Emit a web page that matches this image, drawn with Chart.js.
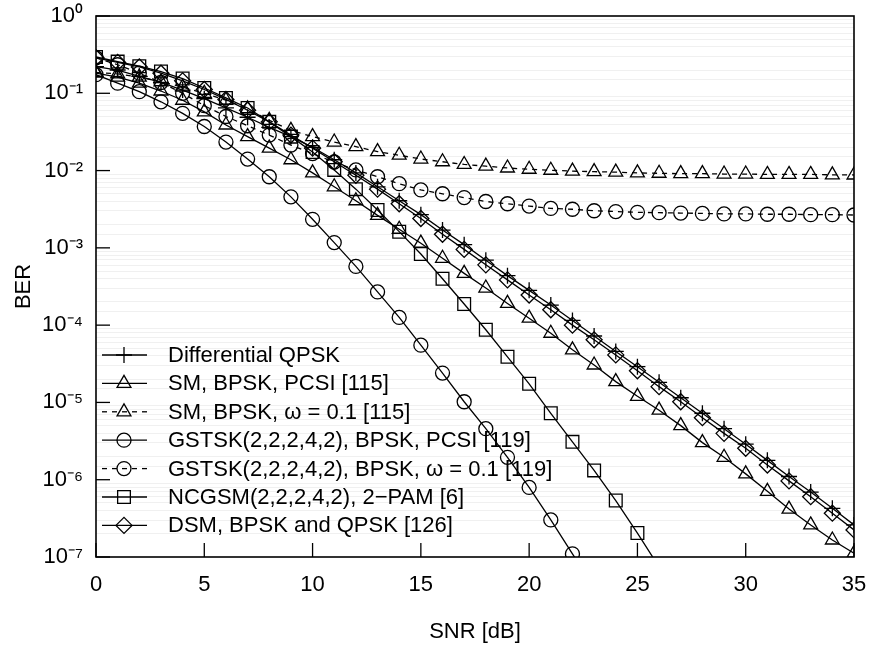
<!DOCTYPE html>
<html>
<head>
<meta charset="utf-8">
<script src="https://cdn.jsdelivr.net/npm/chart.js@4.4.0/dist/chart.umd.min.js"></script>
<style>
html,body{margin:0;padding:0;background:#fff}
#wrap{width:869px;height:646px}
</style>
</head>
<body>
<div id="wrap"><canvas id="myChart"></canvas></div>
<script>
// SNR in dB
const snr = [0,1,2,3,4,5,6,7,8,9,10,11,12,13,14,15,16,17,18,19,20,21,22,23,24,25,26,27,28,29,30,31,32,33,34,35];

// BER values
const diffQpsk = [2.21e-1,2.00e-1,1.66e-1,1.38e-1,1.10e-1,8.51e-2,6.46e-2,4.90e-2,3.63e-2,2.75e-2,2.00e-2,1.38e-2,9.33e-3,6.17e-3,4.07e-3,2.69e-3,1.70e-3,1.10e-3,6.92e-4,4.37e-4,2.82e-4,1.82e-4,1.15e-4,7.24e-5,4.57e-5,2.90e-5,1.82e-5,1.15e-5,7.24e-6,4.57e-6,2.88e-6,1.78e-6,1.10e-6,6.92e-7,4.27e-7,2.60e-7];
const smPcsi = [1.82e-1,1.62e-1,1.35e-1,1.07e-1,8.13e-2,5.75e-2,3.89e-2,2.75e-2,1.95e-2,1.38e-2,9.33e-3,6.17e-3,4.07e-3,2.63e-3,1.74e-3,1.15e-3,7.33e-4,4.68e-4,3.02e-4,1.91e-4,1.23e-4,7.85e-5,4.79e-5,3.05e-5,1.86e-5,1.20e-5,7.94e-6,5.01e-6,3.02e-6,1.95e-6,1.19e-6,7.08e-7,4.17e-7,2.60e-7,1.66e-7,1.12e-7];
const smOmega = [1.86e-1,1.78e-1,1.62e-1,1.41e-1,1.20e-1,1.00e-1,8.13e-2,6.31e-2,4.47e-2,3.31e-2,2.75e-2,2.34e-2,2.04e-2,1.76e-2,1.58e-2,1.41e-2,1.30e-2,1.20e-2,1.14e-2,1.08e-2,1.04e-2,1.01e-2,9.84e-3,9.68e-3,9.55e-3,9.33e-3,9.23e-3,9.12e-3,9.12e-3,9.02e-3,9.02e-3,8.91e-3,8.91e-3,8.91e-3,8.81e-3,8.77e-3];
const gstskPcsi = [1.74e-1,1.35e-1,1.05e-1,7.76e-2,5.50e-2,3.72e-2,2.34e-2,1.41e-2,8.32e-3,4.57e-3,2.34e-3,1.17e-3,5.75e-4,2.69e-4,1.26e-4,5.50e-5,2.40e-5,1.02e-5,4.57e-6,1.95e-6,7.94e-7,3.02e-7,1.10e-7,3.98e-8];
const gstskOmega = [2.88e-1,2.34e-1,1.82e-1,1.38e-1,1.00e-1,6.92e-2,5.01e-2,3.80e-2,2.88e-2,2.14e-2,1.66e-2,1.29e-2,1.02e-2,8.32e-3,6.76e-3,5.62e-3,5.01e-3,4.47e-3,3.98e-3,3.72e-3,3.47e-3,3.24e-3,3.16e-3,3.02e-3,2.95e-3,2.88e-3,2.85e-3,2.82e-3,2.79e-3,2.75e-3,2.75e-3,2.72e-3,2.72e-3,2.69e-3,2.69e-3,2.66e-3];
const ncgsm = [2.95e-1,2.57e-1,2.24e-1,1.91e-1,1.55e-1,1.17e-1,8.71e-2,6.46e-2,4.27e-2,2.75e-2,1.74e-2,1.02e-2,5.75e-3,3.09e-3,1.62e-3,8.32e-4,3.98e-4,1.88e-4,8.71e-5,3.89e-5,1.74e-5,7.24e-6,3.09e-6,1.32e-6,5.37e-7,2.04e-7,7.41e-8];
const dsm = [2.88e-1,2.51e-1,2.19e-1,1.82e-1,1.45e-1,1.12e-1,8.32e-2,6.03e-2,4.27e-2,2.88e-2,1.95e-2,1.30e-2,8.71e-3,5.75e-3,3.72e-3,2.40e-3,1.50e-3,9.55e-4,6.03e-4,3.85e-4,2.45e-4,1.58e-4,1.00e-4,6.46e-5,4.12e-5,2.57e-5,1.60e-5,1.02e-5,6.35e-6,3.98e-6,2.55e-6,1.55e-6,9.66e-7,6.03e-7,3.69e-7,2.24e-7];

const seriesNames = [
  'Differential QPSK',
  'SM, BPSK, PCSI [115]',
  'SM, BPSK, \u03c9 = 0.1 [115]',
  'GSTSK(2,2,2,4,2), BPSK, PCSI [119]',
  'GSTSK(2,2,2,4,2), BPSK, \u03c9 = 0.1 [119]',
  'NCGSM(2,2,2,4,2), 2\u2212PAM [6]',
  'DSM, BPSK and QPSK [126]'
];
const xTicks = [0,5,10,15,20,25,30,35];
const yTicks = [1e0,1e-1,1e-2,1e-3,1e-4,1e-5,1e-6,1e-7];

const FONT = "'Liberation Sans', Arial, Helvetica, sans-serif";
const sup = {'0':'\u2070','1':'\u00b9','2':'\u00b2','3':'\u00b3','4':'\u2074','5':'\u2075','6':'\u2076','7':'\u2077','8':'\u2078','9':'\u2079','-':'\u207b'};

function pts(arr){
  return arr.map((v,i) => ({x: snr[i], y: v}));
}

const styles = [
  {shape:'cross', r:8, dash:[]},
  {shape:'triangle', r:8, dash:[]},
  {shape:'triangle', r:8, dash:[5,5]},
  {shape:'circle', r:7, dash:[]},
  {shape:'circle', r:7, dash:[5,5]},
  {shape:'rect', r:9, dash:[]},
  {shape:'rectRot', r:8, dash:[]}
];
const allData = [diffQpsk, smPcsi, smOmega, gstskPcsi, gstskOmega, ncgsm, dsm];

const datasets = allData.map((arr,i) => ({
  label: seriesNames[i],
  data: pts(arr),
  borderColor: '#000',
  backgroundColor: 'rgba(0,0,0,0)',
  borderWidth: 1.3,
  borderDash: styles[i].dash,
  pointStyle: styles[i].shape,
  pointRadius: styles[i].r,
  pointBorderWidth: 1.3,
  pointBorderColor: '#000',
  pointBackgroundColor: 'rgba(0,0,0,0)',
  tension: 0,
  fill: false
}));

function drawMarker(ctx, shape, x, y, r){
  ctx.beginPath();
  if(shape=='circle'){
    ctx.arc(x, y, r, 0, Math.PI*2);
  } else if(shape=='triangle'){
    ctx.moveTo(x, y - r);
    ctx.lineTo(x + Math.cos(Math.PI/6)*r, y + r/2);
    ctx.lineTo(x - Math.cos(Math.PI/6)*r, y + r/2);
    ctx.closePath();
  } else if(shape=='rect'){
    const s = Math.SQRT1_2*r;
    ctx.rect(x - s, y - s, 2*s, 2*s);
  } else if(shape=='rectRot'){
    ctx.moveTo(x - r, y); ctx.lineTo(x, y - r); ctx.lineTo(x + r, y); ctx.lineTo(x, y + r);
    ctx.closePath();
  } else if(shape=='cross'){
    ctx.moveTo(x, y - r); ctx.lineTo(x, y + r);
    ctx.moveTo(x - r, y); ctx.lineTo(x + r, y);
  }
  ctx.stroke();
}

// box, inward ticks, legend
const framePlugin = {
  id: 'frame',
  afterDraw(chart){
    const ctx = chart.ctx;
    const a = chart.chartArea;
    const xs = chart.scales.x, ys = chart.scales.y;
    ctx.save();
    ctx.strokeStyle = '#000';
    ctx.lineWidth = 1.6;
    ctx.setLineDash([]);
    ctx.strokeRect(a.left, a.top, a.right - a.left, a.bottom - a.top);
    ctx.lineWidth = 1.3;
    yTicks.forEach(v => {
      const py = ys.getPixelForValue(v);
      ctx.beginPath(); ctx.moveTo(a.left, py); ctx.lineTo(a.left + 14, py); ctx.stroke();
    });
    xTicks.forEach(v => {
      const px = xs.getPixelForValue(v);
      ctx.beginPath(); ctx.moveTo(px, a.bottom); ctx.lineTo(px, a.bottom - 14); ctx.stroke();
    });

    // legend
    const rowH = 28.4;
    const y0 = a.bottom - 202;
    ctx.font = '22px ' + FONT;
    ctx.fillStyle = '#000';
    ctx.textBaseline = 'middle';
    ctx.textAlign = 'left';
    seriesNames.forEach((name,i) => {
      const yy = y0 + rowH*i;
      ctx.lineWidth = 1.3;
      ctx.setLineDash(styles[i].dash);
      ctx.beginPath(); ctx.moveTo(a.left + 6, yy); ctx.lineTo(a.left + 51, yy); ctx.stroke();
      ctx.setLineDash([]);
      drawMarker(ctx, styles[i].shape, a.left + 28, yy, styles[i].r);
      ctx.fillText(name, a.left + 72, yy + 1);
    });
    ctx.restore();
  }
};

const config = {
  type: 'line',
  data: {datasets: datasets},
  options: {
    responsive: true,
    maintainAspectRatio: false,
    animation: false,
    devicePixelRatio: 1,
    layout: {padding: {top: 16, right: 15, left: 0, bottom: 0}},
    plugins: {legend: {display: false}, tooltip: {enabled: false}},
    scales: {
      x: {
        type: 'linear',
        min: 0, max: 35,
        afterFit: s => { s.height = 89; s.paddingLeft = 0; s.paddingRight = 0; },
        grid: {display: false, drawTicks: false},
        border: {display: false},
        ticks: {stepSize: 5, padding: 15, color: '#000', font: {family: FONT, size: 22}},
        title: {display: true, text: 'SNR [dB]', color: '#000', font: {family: FONT, size: 22}, padding: {top: 0, bottom: 1}}
      },
      y: {
        type: 'logarithmic',
        min: 1e-7, max: 1,
        afterFit: s => { s.width = 96; s.paddingTop = 0; s.paddingBottom = 0; },
        grid: {
          drawTicks: false,
          color: c => (c.tick && c.tick.major) ? 'rgba(0,0,0,0)' : '#f0f0f0'
        },
        border: {display: false},
        ticks: {
          autoSkip: false,
          padding: 13,
          color: '#000',
          font: {family: FONT, size: 22},
          callback: function(value){
            const e = Math.log10(value);
            if (Math.abs(e - Math.round(e)) > 1e-6) return '';
            const s = String(Math.round(e)).split('').map(ch => sup[ch]).join('');
            return '10' + s;
          }
        },
        title: {display: true, text: 'BER', color: '#000', font: {family: FONT, size: 22}, padding: {top: 11, bottom: 0}}
      }
    }
  },
  plugins: [framePlugin]
};

const myChart = new Chart(document.getElementById('myChart').getContext('2d'), config);
</script>
</body>
</html>
